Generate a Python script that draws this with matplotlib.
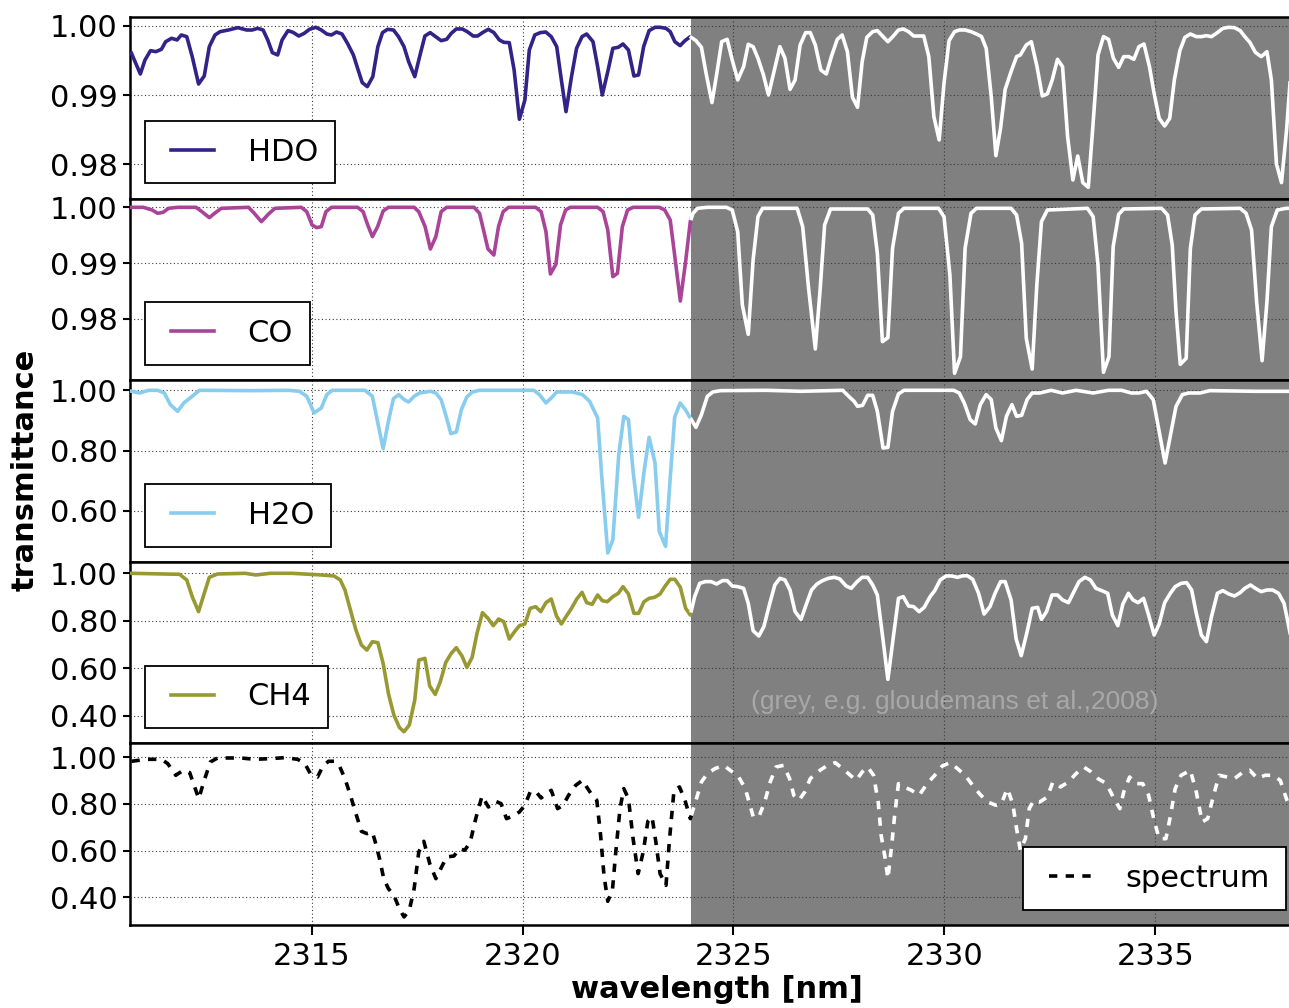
import numpy as np
import matplotlib
matplotlib.use("Agg")
import matplotlib.pyplot as plt

# ---------------- data ----------------
hdo_wl = [2310.73, 2310.94, 2311.05, 2311.18, 2311.31, 2311.44, 2311.54, 2311.68, 2311.81, 2311.91,
          2312.04, 2312.17, 2312.32, 2312.455, 2312.575, 2312.71, 2312.83, 2313.03, 2313.25, 2313.46,
          2313.59, 2313.72, 2313.85, 2313.96, 2314.07, 2314.195, 2314.30, 2314.44, 2314.56, 2314.695,
          2314.825, 2314.95, 2315.10, 2315.23, 2315.36, 2315.47, 2315.59, 2315.72, 2315.85, 2315.99,
          2316.09, 2316.20, 2316.32, 2316.45, 2316.57, 2316.68, 2316.80, 2316.94, 2317.06, 2317.19,
          2317.30, 2317.445, 2317.56, 2317.685, 2317.81, 2317.94, 2318.07, 2318.20, 2318.31, 2318.43,
          2318.57, 2318.69, 2318.83, 2318.935, 2319.06, 2319.19, 2319.32, 2319.45, 2319.555, 2319.685,
          2319.80, 2319.925, 2320.055, 2320.16, 2320.29, 2320.42, 2320.55, 2320.68, 2320.81, 2320.92,
          2321.03, 2321.16, 2321.28, 2321.41, 2321.52, 2321.67, 2321.78, 2321.89, 2322.02, 2322.14,
          2322.27, 2322.38, 2322.51, 2322.64, 2322.75, 2322.87, 2323.00, 2323.14, 2323.26, 2323.40,
          2323.50, 2323.61, 2323.735, 2323.85, 2323.976,
          2324.11, 2324.24, 2324.35, 2324.49, 2324.605, 2324.72, 2324.85, 2324.97, 2325.10, 2325.24,
          2325.35, 2325.465, 2325.58, 2325.71, 2325.83, 2325.96, 2326.10, 2326.22, 2326.34, 2326.46,
          2326.58, 2326.71, 2326.82, 2326.94, 2327.07, 2327.20, 2327.32, 2327.46, 2327.575, 2327.70,
          2327.82, 2327.94, 2328.05, 2328.16, 2328.30, 2328.41, 2328.545, 2328.66, 2328.79, 2328.91,
          2329.025, 2329.15, 2329.27, 2329.51, 2329.63, 2329.75, 2329.875, 2329.99, 2330.11, 2330.24,
          2330.355, 2330.49, 2330.63, 2330.76, 2330.88, 2330.99, 2331.11, 2331.22, 2331.33, 2331.44,
          2331.58, 2331.71, 2331.80, 2331.94, 2332.06, 2332.195, 2332.32, 2332.44, 2332.555, 2332.68,
          2332.80, 2332.92, 2333.045, 2333.16, 2333.28, 2333.41, 2333.53, 2333.64, 2333.77, 2333.89,
          2334.005, 2334.13, 2334.25, 2334.37, 2334.49, 2334.61, 2334.73, 2334.86, 2334.97, 2335.09,
          2335.22, 2335.34, 2335.45, 2335.58, 2335.70, 2335.83, 2335.97, 2336.09, 2336.21, 2336.33,
          2336.47, 2336.60, 2336.74, 2336.875, 2337.01, 2337.12, 2337.24, 2337.37, 2337.51, 2337.645,
          2337.75, 2337.87, 2337.99, 2338.11, 2338.23]
hdo_tr = [0.99605, 0.99306, 0.99508, 0.99643, 0.99629, 0.99663, 0.99773, 0.99822, 0.99798, 0.99870,
          0.99846, 0.99557, 0.99161, 0.99277, 0.99701, 0.99870, 0.99918, 0.99942, 0.99976, 0.99942,
          0.99942, 0.99966, 0.99942, 0.99798, 0.99614, 0.99581, 0.99798, 0.99933, 0.99908, 0.99855,
          0.99894, 0.99952, 0.99981, 0.99942, 0.99884, 0.99870, 0.99913, 0.99884, 0.99749, 0.99581,
          0.99388, 0.99181, 0.99123, 0.99267, 0.99701, 0.99904, 0.99952, 0.99942, 0.99846, 0.99701,
          0.99484, 0.99267, 0.99557, 0.99855, 0.99904, 0.99846, 0.99788, 0.99807, 0.99894, 0.99957,
          0.99957, 0.99918, 0.99855, 0.99855, 0.99908, 0.99952, 0.99904, 0.99798, 0.99764, 0.99759,
          0.99364, 0.98651, 0.98930, 0.99653, 0.99870, 0.99904, 0.99913, 0.99846, 0.99701, 0.99219,
          0.98761, 0.99267, 0.99677, 0.99846, 0.99884, 0.99773, 0.99412, 0.99002, 0.99340, 0.99677,
          0.99692, 0.99740, 0.99653, 0.99277, 0.99292, 0.99701, 0.99933, 0.99981, 0.99981, 0.99966,
          0.99918, 0.99773, 0.99716, 0.99788, 0.99846,
          0.99788, 0.99692, 0.99316, 0.98892, 0.99316, 0.99773, 0.99807, 0.99508, 0.99219, 0.99412,
          0.99735, 0.99701, 0.99533, 0.99292, 0.99002, 0.99340, 0.99701, 0.99533, 0.99084, 0.99219,
          0.99725, 0.99904, 0.99904, 0.99725, 0.99364, 0.99306, 0.99557, 0.99807, 0.99870, 0.99629,
          0.98969, 0.98824, 0.99484, 0.99836, 0.99918, 0.99933, 0.99846, 0.99773, 0.99855, 0.99942,
          0.99957, 0.99918, 0.99855, 0.99855, 0.99557, 0.98689, 0.98352, 0.99171, 0.99788, 0.99918,
          0.99942, 0.99942, 0.99918, 0.99884, 0.99846, 0.99677, 0.98978, 0.98125, 0.98520, 0.99084,
          0.99340, 0.99557, 0.99581, 0.99725, 0.99773, 0.99412, 0.98988, 0.99017, 0.99219, 0.99518,
          0.99412, 0.98400, 0.97773, 0.98120, 0.97735, 0.97667, 0.98641, 0.99581, 0.99846, 0.99807,
          0.99533, 0.99402, 0.99557, 0.99557, 0.99518, 0.99701, 0.99740, 0.99412, 0.99027, 0.98665,
          0.98554, 0.98665, 0.99219, 0.99643, 0.99836, 0.99884, 0.99846, 0.99846, 0.99860, 0.99846,
          0.99904, 0.99966, 0.99981, 0.99976, 0.99933, 0.99846, 0.99764, 0.99619, 0.99557, 0.99629,
          0.99219, 0.98005, 0.97735, 0.98496, 0.99500]

co_wl = [2310.73, 2311.01, 2311.22, 2311.35, 2311.48, 2311.61, 2311.83, 2312.26, 2312.40, 2312.575,
         2312.73, 2312.86, 2313.505, 2313.64, 2313.81, 2313.98, 2314.13, 2314.755, 2314.885, 2315.01,
         2315.12, 2315.23, 2315.34, 2315.47, 2316.09, 2316.22, 2316.33, 2316.44, 2316.565, 2316.695,
         2316.82, 2317.43, 2317.54, 2317.69, 2317.815, 2317.945, 2318.07, 2318.20, 2318.85, 2318.98,
         2319.065, 2319.18, 2319.32, 2319.43, 2319.54, 2319.67, 2320.31, 2320.44, 2320.555, 2320.66,
         2320.79, 2320.90, 2321.02, 2321.13, 2321.78, 2321.91, 2322.02, 2322.14, 2322.25, 2322.365,
         2322.49, 2322.62, 2323.24, 2323.37, 2323.50, 2323.605, 2323.74, 2323.865, 2323.976,
         2324.04, 2324.15, 2324.38, 2324.83, 2324.97, 2325.10, 2325.21, 2325.35, 2325.465, 2325.58,
         2325.69, 2326.51, 2326.64, 2326.78, 2326.94, 2327.05, 2327.16, 2327.30, 2328.18, 2328.30,
         2328.41, 2328.53, 2328.66, 2328.77, 2328.91, 2329.04, 2329.86, 2329.99, 2330.13, 2330.24,
         2330.38, 2330.49, 2330.63, 2330.76, 2331.58, 2331.71, 2331.83, 2331.94, 2332.08, 2332.19,
         2332.30, 2332.44, 2333.39, 2333.525, 2333.64, 2333.77, 2333.90, 2334.00, 2334.13, 2334.25,
         2335.15, 2335.29, 2335.40, 2335.49, 2335.59, 2335.73, 2335.83, 2335.94, 2336.09, 2337.01,
         2337.15, 2337.28, 2337.40, 2337.53, 2337.645, 2337.75, 2337.89, 2338.10, 2338.40]
co_tr = [1.00000, 1.00000, 0.99952, 0.99893, 0.99910, 0.99982, 1.00000, 1.00000, 0.99922, 0.99815,
         0.99910, 0.99982, 1.00000, 0.99893, 0.99743, 0.99881, 0.99982, 1.00000, 0.99922, 0.99684,
         0.99636, 0.99654, 0.99922, 1.00000, 1.00000, 0.99922, 0.99684, 0.99475, 0.99654, 0.99934,
         1.00000, 1.00000, 0.99922, 0.99654, 0.99254, 0.99475, 0.99922, 1.00000, 1.00000, 0.99893,
         0.99624, 0.99254, 0.99146, 0.99654, 0.99922, 1.00000, 1.00000, 0.99922, 0.99564, 0.98806,
         0.98979, 0.99684, 0.99952, 1.00000, 1.00000, 0.99922, 0.99594, 0.98758, 0.98818, 0.99654,
         0.99952, 1.00000, 1.00000, 0.99952, 0.99773, 0.99146, 0.98322, 0.99027, 0.99743,
         0.99893, 0.99982, 1.00000, 1.00000, 0.99952, 0.99564, 0.98251, 0.97725, 0.99057, 0.99833,
         0.99982, 0.99982, 0.99654, 0.98549, 0.97463, 0.98490, 0.99684, 0.99970, 0.99970, 0.99863,
         0.99176, 0.97594, 0.97666, 0.99266, 0.99893, 0.99982, 0.99982, 0.99833, 0.98788, 0.97027,
         0.97325, 0.99266, 0.99893, 0.99982, 0.99982, 0.99863, 0.99355, 0.97654, 0.97104, 0.98609,
         0.99743, 0.99952, 0.99982, 0.99833, 0.98967, 0.97045, 0.97325, 0.99296, 0.99875, 0.99970,
         0.99982, 0.99863, 0.99325, 0.98131, 0.97188, 0.97296, 0.99266, 0.99863, 0.99970, 0.99982,
         0.99893, 0.99594, 0.98310, 0.97254, 0.98310, 0.99654, 0.99952, 0.99982, 0.99982]

h2o_wl = [2310.73, 2310.92, 2311.14, 2311.35, 2311.51, 2311.65, 2311.825, 2311.97, 2312.17, 2312.34,
          2313.59, 2314.455, 2314.71, 2314.885, 2315.06, 2315.23, 2315.36, 2315.49, 2316.265, 2316.44,
          2316.57, 2316.695, 2316.82, 2316.94, 2317.065, 2317.195, 2317.30, 2317.43, 2317.56, 2317.815,
          2317.945, 2318.07, 2318.20, 2318.30, 2318.43, 2318.55, 2318.68, 2318.81, 2318.98, 2320.27,
          2320.40, 2320.555, 2320.68, 2320.81, 2321.18, 2321.42, 2321.59, 2321.78, 2321.88, 2322.02,
          2322.14, 2322.28, 2322.40, 2322.51, 2322.62, 2322.75, 2322.88, 2323.00, 2323.14, 2323.24,
          2323.39, 2323.50, 2323.605, 2323.735, 2323.86, 2323.976,
          2324.11, 2324.24, 2324.38, 2324.51, 2324.695, 2325.78, 2326.60, 2327.59, 2327.73, 2327.86,
          2327.94, 2328.06, 2328.18, 2328.30, 2328.41, 2328.545, 2328.66, 2328.77, 2328.91, 2329.04,
          2330.22, 2330.35, 2330.47, 2330.61, 2330.73, 2330.85, 2330.99, 2331.11, 2331.22, 2331.35,
          2331.47, 2331.60, 2331.71, 2331.83, 2331.96, 2332.08, 2332.26, 2332.53, 2332.80, 2333.12,
          2333.525, 2333.89, 2334.20, 2334.43, 2334.61, 2334.79, 2334.95, 2335.09, 2335.23, 2335.36,
          2335.49, 2335.64, 2335.79, 2336.06, 2336.29, 2337.37, 2338.40]
h2o_tr = [0.9967, 0.9911, 1.0000, 1.0000, 0.9911, 0.9524, 0.9302, 0.9579, 0.9801, 1.0000,
          0.9989, 1.0000, 0.9967, 0.9801, 0.9247, 0.9413, 0.9856, 1.0000, 1.0000, 0.9801,
          0.8914, 0.8061, 0.8970, 0.9723, 0.9856, 0.9690, 0.9612, 0.9801, 0.9911, 0.9967,
          0.9911, 0.9690, 0.9080, 0.8560, 0.8615, 0.9357, 0.9778, 0.9945, 1.0000, 1.0000,
          0.9856, 0.9579, 0.9745, 0.9945, 0.9945, 0.9856, 0.9634, 0.9080, 0.7086, 0.4593,
          0.5036, 0.7861, 0.9136, 0.9025, 0.7307, 0.5778, 0.7307, 0.8438, 0.7584, 0.5313,
          0.4814, 0.7086, 0.9102, 0.9579, 0.9357, 0.9080,
          0.8770, 0.9191, 0.9801, 0.9945, 0.9989, 1.0000, 0.9967, 1.0000, 0.9801, 0.9634,
          0.9468, 0.9501, 0.9834, 0.9834, 0.9302, 0.8083, 0.8105, 0.9302, 0.9878, 1.0000,
          1.0000, 0.9911, 0.9579, 0.9025, 0.8881, 0.9524, 0.9856, 0.9690, 0.8748, 0.8327,
          0.9136, 0.9524, 0.9136, 0.9169, 0.9690, 0.9911, 0.9911, 1.0000, 0.9911, 1.0000,
          0.9911, 1.0000, 1.0000, 0.9911, 0.9911, 0.9967, 0.9690, 0.8637, 0.7584, 0.8526,
          0.9468, 0.9856, 0.9911, 0.9911, 0.9989, 0.9967, 0.9967]

ch4_wl = [2310.73, 2311.87, 2312.04, 2312.17, 2312.32, 2312.455, 2312.575, 2312.77, 2313.42, 2313.68,
          2314.02, 2314.54, 2315.23, 2315.53, 2315.68, 2315.79, 2315.92, 2316.05, 2316.18, 2316.31,
          2316.44, 2316.57, 2316.695, 2316.82, 2316.95, 2317.08, 2317.19, 2317.315, 2317.445, 2317.54,
          2317.685, 2317.80, 2317.93, 2318.05, 2318.18, 2318.31, 2318.43, 2318.565, 2318.68, 2318.805,
          2318.92, 2319.05, 2319.18, 2319.305, 2319.435, 2319.555, 2319.685, 2319.81, 2319.925, 2320.055,
          2320.18, 2320.31, 2320.43, 2320.555, 2320.68, 2320.805, 2320.92, 2321.03, 2321.16, 2321.28,
          2321.41, 2321.52, 2321.65, 2321.78, 2321.89, 2322.01, 2322.14, 2322.27, 2322.38, 2322.51,
          2322.64, 2322.75, 2322.88, 2323.00, 2323.13, 2323.26, 2323.37, 2323.50, 2323.61, 2323.74,
          2323.865, 2323.976,
          2324.08, 2324.20, 2324.33, 2324.47, 2324.60, 2324.74, 2324.85, 2324.97, 2325.10, 2325.24,
          2325.35, 2325.465, 2325.60, 2325.72, 2325.85, 2325.98, 2326.10, 2326.22, 2326.34, 2326.46,
          2326.60, 2326.72, 2326.85, 2326.98, 2327.11, 2327.25, 2327.39, 2327.52, 2327.67, 2327.79,
          2327.93, 2328.05, 2328.18, 2328.30, 2328.41, 2328.545, 2328.66, 2328.79, 2328.91, 2329.025,
          2329.15, 2329.27, 2329.40, 2329.52, 2329.66, 2329.77, 2329.90, 2330.04, 2330.17, 2330.31,
          2330.42, 2330.54, 2330.67, 2330.81, 2330.94, 2331.08, 2331.20, 2331.33, 2331.44, 2331.58,
          2331.70, 2331.82, 2331.96, 2332.08, 2332.21, 2332.30, 2332.42, 2332.55, 2332.68, 2332.80,
          2332.94, 2333.05, 2333.19, 2333.33, 2333.46, 2333.59, 2333.73, 2333.87, 2333.98, 2334.11,
          2334.23, 2334.36, 2334.47, 2334.59, 2334.72, 2334.84, 2334.97, 2335.09, 2335.22, 2335.355,
          2335.47, 2335.61, 2335.74, 2335.86, 2335.97, 2336.09, 2336.21, 2336.33, 2336.47, 2336.60,
          2336.74, 2336.875, 2337.01, 2337.12, 2337.255, 2337.37, 2337.51, 2337.645, 2337.78, 2337.92,
          2338.05, 2338.14, 2338.30]
ch4_tr = [1.0000, 0.9958, 0.9719, 0.9016, 0.8384, 0.9157, 0.9831, 0.9972, 1.0000, 0.9930,
          1.0000, 1.0000, 0.9930, 0.9888, 0.9719, 0.9297, 0.8454, 0.7611, 0.6978, 0.6767,
          0.7119, 0.7077, 0.6205, 0.4940, 0.4027, 0.3507, 0.3324, 0.3605, 0.4659, 0.6346,
          0.6416, 0.5250, 0.4898, 0.5432, 0.6247, 0.6627, 0.6866, 0.6514, 0.6036, 0.6458,
          0.7470, 0.8342, 0.8103, 0.7793, 0.8075, 0.7962, 0.7231, 0.7540, 0.7793, 0.7864,
          0.8524, 0.8595, 0.8384, 0.8763, 0.8918, 0.8201, 0.7864, 0.8173, 0.8524, 0.8904,
          0.9199, 0.8763, 0.8693, 0.9086, 0.8848, 0.8805, 0.9016, 0.9157, 0.9438, 0.9129,
          0.8313, 0.8313, 0.8805, 0.8946, 0.8988, 0.9129, 0.9438, 0.9747, 0.9747, 0.9410,
          0.8524, 0.8243,
          0.9016, 0.9578, 0.9649, 0.9649, 0.9550, 0.9691, 0.9691, 0.9466, 0.9438, 0.9368,
          0.8735, 0.7583, 0.7358, 0.7751, 0.8665, 0.9508, 0.9789, 0.9719, 0.9297, 0.8384,
          0.8060, 0.8665, 0.9297, 0.9550, 0.9691, 0.9789, 0.9831, 0.9761, 0.9466, 0.9368,
          0.9649, 0.9831, 0.9831, 0.9508, 0.9086, 0.7189, 0.5531, 0.7330, 0.8946, 0.9016,
          0.8623, 0.8595, 0.8384, 0.8566, 0.9016, 0.9269, 0.9719, 0.9888, 0.9888, 0.9831,
          0.9888, 0.9902, 0.9747, 0.9157, 0.8285, 0.8595, 0.9157, 0.9649, 0.9649, 0.8876,
          0.7231, 0.6528, 0.7540, 0.8524, 0.8566, 0.8060, 0.8384, 0.9086, 0.9086, 0.8876,
          0.8763, 0.9157, 0.9649, 0.9831, 0.9719, 0.9368, 0.9269, 0.9157, 0.8243, 0.7793,
          0.8707, 0.9157, 0.8876, 0.8763, 0.8946, 0.8243, 0.7400, 0.7864, 0.8763, 0.9157,
          0.9438, 0.9578, 0.9606, 0.9297, 0.8313, 0.7400, 0.7119, 0.8173, 0.9157, 0.9269,
          0.9129, 0.9044, 0.9185, 0.9368, 0.9508, 0.9368, 0.9227, 0.9297, 0.9297, 0.9157,
          0.8735, 0.7962, 0.6500]

spec_wl = [2310.73, 2311.09, 2311.44, 2311.59, 2311.78, 2311.955, 2312.11, 2312.20, 2312.325, 2312.455,
           2312.60, 2312.77, 2313.33, 2313.64, 2314.02, 2314.37, 2314.67, 2314.84, 2314.97, 2315.14,
           2315.27, 2315.40, 2315.53, 2315.66, 2315.79, 2315.92, 2316.05, 2316.18, 2316.31, 2316.44,
           2316.52, 2316.61, 2316.71, 2316.82, 2316.95, 2317.08, 2317.19, 2317.315, 2317.43, 2317.54,
           2317.66, 2317.80, 2317.945, 2318.07, 2318.20, 2318.375, 2318.50, 2318.63, 2318.76, 2318.89,
           2319.04, 2319.19, 2319.365, 2319.49, 2319.62, 2319.78, 2319.925, 2320.055, 2320.18, 2320.31,
           2320.44, 2320.57, 2320.68, 2320.83, 2320.96, 2321.09, 2321.26, 2321.42, 2321.52, 2321.65,
           2321.76, 2321.85, 2321.93, 2322.02, 2322.13, 2322.21, 2322.31, 2322.40, 2322.51, 2322.62,
           2322.74, 2322.86, 2322.97, 2323.07, 2323.16, 2323.26, 2323.40, 2323.485, 2323.59, 2323.72,
           2323.85, 2323.976,
           2324.11, 2324.24, 2324.38, 2324.56, 2324.77, 2324.92, 2325.10, 2325.28, 2325.47, 2325.60,
           2325.74, 2325.87, 2326.01, 2326.19, 2326.33, 2326.43, 2326.55, 2326.69, 2326.82, 2327.05,
           2327.23, 2327.41, 2327.59, 2327.77, 2327.91, 2328.05, 2328.18, 2328.32, 2328.43, 2328.50,
           2328.59, 2328.66, 2328.75, 2328.82, 2328.91, 2329.04, 2329.22, 2329.40, 2329.59, 2329.77,
           2329.95, 2330.13, 2330.31, 2330.49, 2330.67, 2330.85, 2331.03, 2331.22, 2331.35, 2331.49,
           2331.62, 2331.71, 2331.80, 2331.92, 2332.01, 2332.12, 2332.26, 2332.44, 2332.57, 2332.75,
           2332.94, 2333.12, 2333.30, 2333.48, 2333.64, 2333.84, 2334.02, 2334.16, 2334.25, 2334.39,
           2334.52, 2334.70, 2334.84, 2334.97, 2335.09, 2335.25, 2335.36, 2335.47, 2335.61, 2335.83,
           2335.97, 2336.11, 2336.24, 2336.38, 2336.51, 2336.70, 2336.875, 2337.06, 2337.24, 2337.42,
           2337.60, 2337.78, 2337.96, 2338.12, 2338.30]
spec_tr = [0.9830, 0.9914, 0.9914, 0.9729, 0.9229, 0.9443, 0.9343, 0.8871, 0.8229, 0.9014,
           0.9800, 0.9971, 0.9971, 0.9914, 0.9943, 0.9986, 0.9914, 0.9729, 0.9300, 0.9157,
           0.9629, 0.9830, 0.9830, 0.9629, 0.9086, 0.8371, 0.7586, 0.6829, 0.6729, 0.6800,
           0.6300, 0.5657, 0.4800, 0.4371, 0.4086, 0.3514, 0.3157, 0.3443, 0.4371, 0.5943,
           0.6400, 0.5443, 0.4800, 0.5257, 0.5729, 0.5771, 0.6086, 0.6014, 0.6371, 0.7371,
           0.8343, 0.7871, 0.8114, 0.8014, 0.7371, 0.7486, 0.7657, 0.7943, 0.8514, 0.8543,
           0.8257, 0.8443, 0.8586, 0.7800, 0.7943, 0.8371, 0.8800, 0.9014, 0.8729, 0.8371,
           0.8157, 0.6657, 0.4943, 0.3829, 0.4300, 0.5943, 0.7800, 0.8657, 0.8229, 0.6514,
           0.5014, 0.5943, 0.7257, 0.7443, 0.6371, 0.5014, 0.4514, 0.6514, 0.8586, 0.8729,
           0.8157, 0.7371,
           0.8157, 0.8943, 0.9300, 0.9514, 0.9657, 0.9443, 0.9229, 0.8657, 0.7443, 0.7443,
           0.8086, 0.8943, 0.9586, 0.9657, 0.9086, 0.8371, 0.8157, 0.8514, 0.9086, 0.9443,
           0.9657, 0.9771, 0.9514, 0.9229, 0.9014, 0.9371, 0.9586, 0.9229, 0.8086, 0.6657,
           0.5729, 0.4800, 0.6229, 0.7514, 0.8871, 0.8729, 0.8586, 0.8371, 0.8871, 0.9229,
           0.9629, 0.9771, 0.9514, 0.9229, 0.8800, 0.8400, 0.8086, 0.7943, 0.8014, 0.8657,
           0.8014, 0.6943, 0.6014, 0.6514, 0.7800, 0.8157, 0.8086, 0.8300, 0.8943, 0.8729,
           0.8943, 0.9300, 0.9586, 0.9371, 0.9086, 0.8871, 0.8229, 0.7800, 0.8514, 0.9157,
           0.8871, 0.8871, 0.8371, 0.7300, 0.6514, 0.6514, 0.7514, 0.8657, 0.9229, 0.9443,
           0.8514, 0.7229, 0.7371, 0.8371, 0.9229, 0.9157, 0.9086, 0.9343, 0.9443, 0.9086,
           0.9229, 0.9229, 0.9014, 0.8157, 0.7400]

series_labels = ["HDO", "CO", "H2O", "CH4", "spectrum"]
series_colors = ["#332288", "#AA4499", "#88CCEE", "#999933", "black"]
panel_yticks = [[0.98, 0.99, 1.00], [0.98, 0.99, 1.00], [0.60, 0.80, 1.00],
                [0.40, 0.60, 0.80, 1.00], [0.40, 0.60, 0.80, 1.00]]
panel_ylims = [(0.97504, 1.0013), (0.96904, 1.00156), (0.4302, 1.0336),
               (0.2833, 1.0485), (0.2813, 1.0596)]
xticks = [2315, 2320, 2325, 2330, 2335]
split_wl = 2324.0           # start of the grey (literature) region
xlim = (2310.695, 2338.464)
note_text = "(grey, e.g. gloudemans et al.,2008)"

# ---------------- figure ----------------
plt.rcParams['font.family'] = ['DejaVu Sans']
plt.rcParams['lines.scale_dashes'] = False
W, H = 1289, 1008
fig = plt.figure(figsize=(W / 100, H / 100), dpi=100)

left = 130 / W
right = 1301.5 / W
top = 1 - 17 / H
bottom = 1 - 925 / H
ph = (top - bottom) / 5

data = [(hdo_wl, hdo_tr), (co_wl, co_tr), (h2o_wl, h2o_tr), (ch4_wl, ch4_tr), (spec_wl, spec_tr)]
axes = []
for i, ((wl, tr), lab, col) in enumerate(zip(data, series_labels, series_colors)):
    ax = fig.add_axes([left, top - (i + 1) * ph, right - left, ph],
                      sharex=axes[0] if axes else None)
    axes.append(ax)
    wl = np.asarray(wl)
    tr = np.asarray(tr)
    tb = np.interp(split_wl, wl, tr)
    m1 = wl < split_wl
    m2 = wl > split_wl
    x1 = np.append(wl[m1], split_wl)
    y1 = np.append(tr[m1], tb)
    x2 = np.insert(wl[m2], 0, split_wl)
    y2 = np.insert(tr[m2], 0, tb)
    ls = (0, (6, 6)) if lab == "spectrum" else '-'
    ax.axvspan(split_wl, xlim[1] + 1, color='#808080', lw=0, zorder=0.5)
    ax.plot(x1, y1, color=col, lw=2.6, ls=ls, label=lab, zorder=3)
    ax.plot(x2, y2, color='white', lw=2.6, ls=ls, zorder=3)
    ax.set_ylim(*panel_ylims[i])
    ax.set_yticks(panel_yticks[i])
    ax.set_yticklabels(["%.2f" % t for t in panel_yticks[i]])
    ax.grid(True, color='#3a3a3a', linestyle=(0, (0.8, 1.8)), linewidth=0.8)
    for s in ax.spines.values():
        s.set_linewidth(1.8)
    ax.tick_params(axis='both', direction='out', length=5, width=1.5,
                   labelsize=22, pad=4, top=False, right=False)
    leg = ax.legend(loc='lower right' if lab == "spectrum" else 'lower left',
                    fontsize=22, numpoints=2, fancybox=False, framealpha=1,
                    edgecolor='black', borderaxespad=0.5, borderpad=0.55)
    leg.get_frame().set_linewidth(1.3)
    if i < 4:
        plt.setp(ax.get_xticklabels(), visible=False)

axes[0].set_xlim(*xlim)
axes[-1].set_xticks(xticks)
axes[-1].set_xticklabels([str(t) for t in xticks])
axes[-1].tick_params(axis='x', length=7, pad=5)

axes[3].text(2330.25, 0.457, note_text, color='#a8a8a8', fontsize=19,
             family=['Liberation Sans', 'DejaVu Sans'],
             ha='center', va='center', zorder=4)

fig.text(25 / W, 1 - 470 / H, "transmittance", rotation=90, fontsize=22,
         fontweight='bold', ha='center', va='center')
fig.text(717 / W, 1 - 990 / H, "wavelength [nm]", fontsize=22,
         fontweight='bold', ha='center', va='center')

fig.savefig("out.png", dpi=100)
